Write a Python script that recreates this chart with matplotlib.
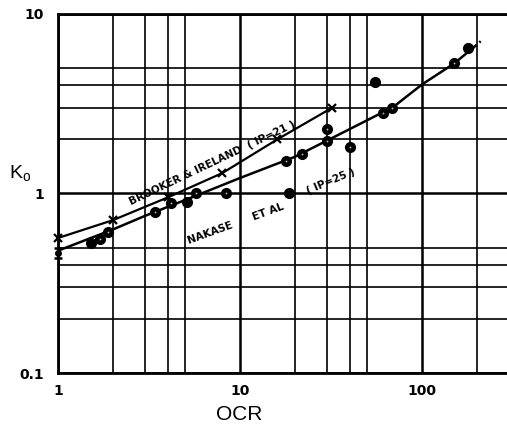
import matplotlib.pyplot as plt

plt.rcParams['font.family'] = ['Liberation Sans', 'DejaVu Sans']

# Brooker & Ireland (IP=21) - crosses joined by straight segments
brooker_ocr = [1, 2, 4, 8, 16, 32]
brooker_k0 = [0.565, 0.71, 0.95, 1.3, 2.0, 3.0]

# Nakase et al (IP=25) - measured points
nakase_plain_ocr = [1.52, 5.1, 18.5, 55, 178]
nakase_plain_k0 = [0.53, 0.9, 1.0, 4.2, 6.45]
nakase_hatch_ocr = [1.70, 1.88, 3.41, 4.2, 5.7, 8.4, 18, 22, 30, 30, 40, 61, 68, 150]
nakase_hatch_k0 = [0.557, 0.61, 0.79, 0.885, 1.0, 1.0, 1.52, 1.65, 1.97, 2.28, 1.82, 2.8, 3.0, 5.35]

# Nakase fitted curve
curve_ocr = [1, 2, 3, 5, 10, 20, 30, 50, 70, 100, 150, 190]
curve_k0 = [0.48, 0.63, 0.75, 0.92, 1.22, 1.6, 1.97, 2.56, 3.05, 4.05, 5.3, 6.45]
tail_ocr = [190, 210]
tail_k0 = [6.45, 7.05]

# error bar at OCR = 1
bar_ocr = [1]
bar_k0 = [0.467]
bar_err = [[0.032], [0.033]]

major_x = [1, 10, 100]
minor_x = [2, 3, 4, 5, 20, 30, 40, 50, 200]
major_y = [0.1, 1, 10]
minor_y = [0.2, 0.3, 0.4, 0.5, 2, 3, 4, 5]

fig = plt.figure(figsize=(5.07, 4.28), dpi=100)
ax = fig.add_axes([0.1144, 0.1285, 0.8856, 0.8388])
ax.set_xscale('log')
ax.set_yscale('log')
ax.set_xlim(1, 293)
ax.set_ylim(0.1, 10)

tick_font = dict(fontsize=10, fontweight='bold', family='DejaVu Sans')
ax.set_xticks(major_x)
ax.set_xticklabels(['1', '10', '100'], **tick_font)
ax.set_xticks(minor_x, minor=True)
ax.set_xticklabels([], minor=True)
ax.set_yticks(major_y)
ax.set_yticklabels(['0.1', '1', '10'], **tick_font)
ax.set_yticks(minor_y, minor=True)
ax.set_yticklabels([], minor=True)
ax.tick_params(which='both', length=0)
ax.tick_params(axis='x', pad=8)
ax.tick_params(axis='y', pad=10)

ax.grid(True, which='major', color='black', lw=1.8)
ax.grid(True, which='minor', color='black', lw=1.2)
ax.set_axisbelow(True)
ax.spines['right'].set_visible(False)
for s in ['left', 'bottom', 'top']:
    ax.spines[s].set_linewidth(2)

ax.plot(brooker_ocr, brooker_k0, color='black', lw=1.6, marker='x',
        ms=6, mew=1.6, clip_on=False, zorder=3)
ax.plot(curve_ocr, curve_k0, color='black', lw=1.8, zorder=3)
ax.plot(tail_ocr, tail_k0, color='black', lw=1.8, ls=(0, (2, 1.5)), zorder=3)
ax.plot(nakase_plain_ocr, nakase_plain_k0, 'o', color='black', ms=7, zorder=4)
ax.plot(nakase_hatch_ocr, nakase_hatch_k0, 'o', color='black', ms=7, zorder=4)
ax.plot(nakase_hatch_ocr, nakase_hatch_k0, 'o', color='#bbbbbb', ms=1.3,
        mew=0, zorder=5)
ax.errorbar(bar_ocr, bar_k0, yerr=bar_err, fmt='o', color='black', ms=4,
            capsize=3, elinewidth=1.8, capthick=1.8, clip_on=False, zorder=4)

lbl = dict(fontsize=7.5, fontweight='bold', color='black',
           family='DejaVu Sans', ha='center', va='center',
           transform=fig.transFigure)
fig.text(212 / 507, 1 - 163 / 428, 'BROOKER & IRELAND  ( IP=21 )',
         rotation=25.5, **lbl)
fig.text(236 / 507, 1 - 224 / 428, 'NAKASE      ET AL', rotation=20, **lbl)
fig.text(331 / 507, 1 - 181 / 428, '( IP=25 )', rotation=23, **lbl)

fig.text(20 / 507, 1 - 174 / 428, 'K$_\\mathregular{o}$', fontsize=14,
         ha='center', va='center')
fig.text(239 / 507, 1 - 415 / 428, 'OCR', fontsize=15,
         ha='center', va='center')

fig.savefig('out.png', dpi=100)
